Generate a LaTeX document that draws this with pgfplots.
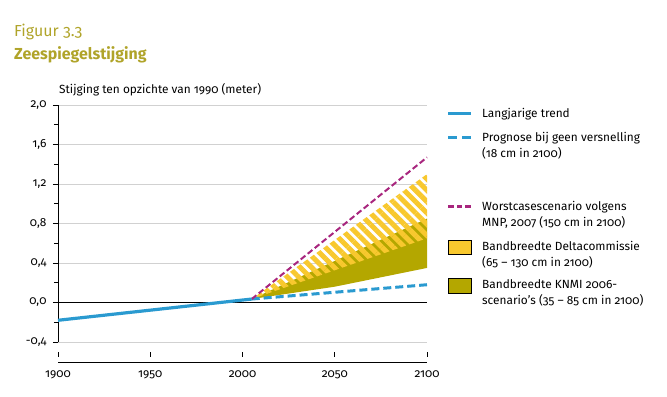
\documentclass[border=0pt]{standalone}
\usepackage{fontspec}
\setmainfont{Fira Sans}[Numbers=OldStyle]
\usepackage{pgfplots}
\pgfplotsset{compat=1.18}
\usetikzlibrary{patterns.meta}
\definecolor{titlec}{HTML}{B0A42A}
\definecolor{trendc}{HTML}{2A9AD0}
\definecolor{magc}{HTML}{A8267E}
\definecolor{yelc}{HTML}{F8C82E}
\definecolor{olivec}{HTML}{B4A700}
\newcommand\tf{\fontsize{11.9}{13}\selectfont}
\begin{document}
\begin{tikzpicture}
\path[use as bounding box] (-58bp,-55bp) rectangle (609bp,342bp);
\begin{axis}[
  at={(0,0)}, anchor=south west,
  scale only axis, width=369bp, height=237bp,
  xmin=1900, xmax=2100, ymin=-0.4, ymax=2.0,
  axis x line*=bottom, axis y line*=left,
  axis x line shift=20bp,
  xtick={1900,1950,2000,2050,2100},
  ytick={-0.4,0,0.4,0.8,1.2,1.6,2.0},
  minor y tick num=1,
  ymajorgrids, grid style={black!18, line width=0.7bp},
  tick align=outside,
  major tick length=5bp, minor tick length=4bp,
  major x tick style={yshift=10bp, line width=0.9bp},
  every tick/.style={black, line width=0.9bp},
  axis line style={line width=0.9bp},
  /pgf/number format/assume math mode=true,
  yticklabel style={xshift=-3bp, /pgf/number format/.cd, fixed, fixed zerofill, precision=1, use comma},
  xticklabel style={/pgf/number format/1000 sep={}},
  tick label style={font=\tf},
  clip=false,
]
\draw[black, line width=0.9bp] (axis cs:1900,0) -- (axis cs:2100,0);
% KNMI band
\addplot[fill=olivec, draw=none] coordinates {(2005,0.035) (2100,0.85) (2100,0.35) (2050,0.16)} -- cycle;
% Delta band
\addplot[draw=none, pattern={Lines[angle=-45,distance=8bp,line width=5bp]}, pattern color=yelc] coordinates {(2005,0.035) (2100,1.30) (2100,0.65)} -- cycle;
% prognose
\addplot[trendc, line width=3bp, dash pattern=on 8bp off 4bp] coordinates {(2005,0.035) (2100,0.18)};
% worst case
\addplot[magc, line width=2bp, dash pattern=on 6bp off 3bp] coordinates {(2005,0.035) (2100,1.47)};
% trend
\addplot[trendc, line width=3.2bp] coordinates {(1900,-0.18) (2005,0.035)};
\end{axis}
% titles
\node[anchor=base west, inner sep=0pt, text=titlec, font=\fontsize{16}{18}\selectfont] at (-44bp,305bp) {Figuur 3.3};
\node[anchor=base west, inner sep=0pt, text=titlec, font=\fontsize{16}{18}\selectfont\bfseries] at (-44bp,282.7bp) {Zeespiegelstijging};
\node[anchor=base west, inner sep=0pt, font=\tf] at (1bp,248bp) {Stijging ten opzichte van 1990 (meter)};
% legend
\draw[trendc, line width=3.5bp] (390bp,228.7bp) -- (413bp,228.7bp);
\draw[trendc, line width=3.5bp] (390bp,204.3bp) -- (399bp,204.3bp) (404bp,204.3bp) -- (413bp,204.3bp);
\draw[magc, line width=2.5bp] (390bp,135.3bp) -- (396bp,135.3bp) (399bp,135.3bp) -- (404bp,135.3bp) (407bp,135.3bp) -- (413bp,135.3bp);
\draw[fill=yelc, line width=0.8bp] (390bp,88bp) rectangle (413bp,102bp);
\draw[fill=olivec, line width=0.8bp] (390bp,49bp) rectangle (413bp,64bp);
\begin{scope}[every node/.style={anchor=base west, inner sep=0pt, font=\tf}]
\node at (424bp,224.5bp) {Langjarige trend};
\node at (424bp,200.3bp) {Prognose bij geen versnelling};
\node at (424bp,184.6bp) {(18 cm in 2100)};
\node at (424bp,131bp) {Worstcasescenario volgens};
\node at (424bp,115.3bp) {MNP, 2007 (150 cm in 2100)};
\node at (424bp,91bp) {Bandbreedte Deltacommissie};
\node at (424bp,75.5bp) {(65 – 130 cm in 2100)};
\node at (424bp,53bp) {Bandbreedte KNMI 2006-};
\node at (424bp,37.5bp) {scenario's (35 – 85 cm in 2100)};
\end{scope}
\end{tikzpicture}
\end{document}
